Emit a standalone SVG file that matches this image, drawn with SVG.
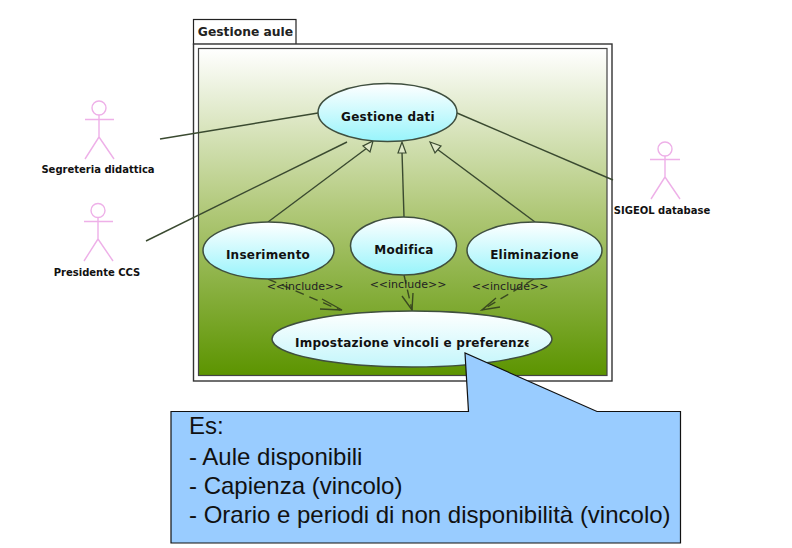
<svg xmlns="http://www.w3.org/2000/svg" width="792" height="548" viewBox="0 0 792 548">
<style>
.label{font-family:"DejaVu Sans",sans-serif;font-weight:bold;fill:#111;text-anchor:middle}
.uc{font-size:12px;letter-spacing:.25px}
.actor-label{font-size:10px}
.use{fill:url(#ucFill);stroke:#3f4f3f;stroke-width:1.5}
.stick{fill:none;stroke:#eeb0e8;stroke-width:1.4}
.line{fill:none;stroke:#3a4a30;stroke-width:1.4}
.dash{fill:none;stroke:#3a4a20;stroke-width:1.4;stroke-dasharray:9 6}
.open{fill:none;stroke:#3a4a20;stroke-width:1.4}
.tri{fill:#dfe8c8;stroke:#3a4a30;stroke-width:1.2}
.inc{font-family:"DejaVu Sans",sans-serif;font-size:11px;fill:#222;text-anchor:middle}
.note{font-family:"Liberation Sans",Arial,sans-serif;font-size:24px;fill:#111}
</style>
<defs>
<linearGradient id="bg" x1="0" y1="0" x2="0" y2="1">
<stop offset="0" stop-color="#ffffff"/><stop offset=".5" stop-color="#b0c878"/><stop offset="1" stop-color="#5c9400"/>
</linearGradient>
<linearGradient id="ucFill" x1="0" y1="0" x2="0" y2="1">
<stop offset="0" stop-color="#ffffff"/><stop offset="1" stop-color="#98f4fb"/>
</linearGradient>
<linearGradient id="ucPale" x1="0" y1="0" x2="0" y2="1">
<stop offset="0" stop-color="#ffffff"/><stop offset="1" stop-color="#c4f6fb"/>
</linearGradient>
<clipPath id="clipImp"><rect x="280" y="325" width="248.500" height="30"/></clipPath>
</defs>
<rect width="792" height="548" fill="#fff"/>
<g id="package">
<rect x="193.500" y="19.500" width="102.500" height="25" fill="#fff" stroke="#222" stroke-width="1.2"/>
<rect x="193.500" y="44" width="418.500" height="337" fill="#fff" stroke="#333" stroke-width="1.4"/>
<rect x="198.500" y="48.500" width="408.500" height="327" fill="url(#bg)" stroke="#444" stroke-width="1.2"/>
<text x="245.500" y="36" style="font-family:'DejaVu Sans',sans-serif;font-weight:bold;font-size:12.300px;fill:#222;text-anchor:middle">Gestione aule</text>
</g>
<g id="connectors">
<line class="line" x1="160" y1="139" x2="318" y2="113"/>
<line class="line" x1="146" y1="241" x2="347" y2="142"/>
<line class="line" x1="457" y1="113" x2="613" y2="180"/>
<line class="line" x1="268" y1="222" x2="367" y2="148"/>
<polygon class="tri" points="373,141 370,152 363,146"/>
<line class="line" x1="404" y1="217" x2="402" y2="152"/>
<polygon class="tri" points="402,142 406,153 398,153"/>
<line class="line" x1="535" y1="222" x2="437" y2="149"/>
<polygon class="tri" points="430,142 441,146 435,153"/>
<line class="dash" x1="268" y1="279" x2="340" y2="310"/>
<polyline class="open" points="322,299 342,310 320,309"/>
<line class="dash" x1="404" y1="275" x2="412" y2="310"/>
<polyline class="open" points="402,296 412,310 413,293"/>
<line class="dash" x1="534" y1="279" x2="482" y2="310"/>
<polyline class="open" points="496,298 482,310 500,307"/>
</g>
<g id="actor-segreteria">
<circle class="stick" cx="99" cy="108" r="7"/>
<path class="stick" d="M99 115V137M85 119.500H114M99 137L85 159M99 137L114 159"/>
<text class="label actor-label" x="98" y="173">Segreteria didattica</text>
</g>
<g id="actor-presidente">
<circle class="stick" cx="98" cy="210.500" r="7"/>
<path class="stick" d="M98 218V239M84 221.500H113M98 239L84 261M98 239L113 261"/>
<text class="label actor-label" x="97" y="276">Presidente CCS</text>
</g>
<g id="actor-sigeol">
<circle class="stick" cx="665" cy="149" r="7"/>
<path class="stick" d="M665 156V177M650 159.500H680M665 177L651 199M665 177L680 199"/>
<text class="label actor-label" x="662" y="214">SIGEOL database</text>
</g>
<g id="uc-gestione"><ellipse class="use" cx="387.500" cy="112.500" rx="69.500" ry="29"/><text class="label uc" x="388" y="121">Gestione dati</text></g>
<g id="uc-inserimento"><ellipse class="use" cx="268.500" cy="250.500" rx="65.500" ry="28.500"/><text class="label uc" x="268" y="259">Inserimento</text></g>
<g id="uc-modifica"><ellipse class="use" cx="403.500" cy="246" rx="53" ry="29"/><text class="label uc" x="404" y="254">Modifica</text></g>
<g id="uc-eliminazione"><ellipse class="use" cx="534.500" cy="250.500" rx="67.500" ry="28.500"/><text class="label uc" x="534.500" y="259">Eliminazione</text></g>
<g id="uc-impostazione"><ellipse class="use" style="fill:url(#ucPale)" cx="412" cy="339" rx="140" ry="28"/><text class="label uc" clip-path="url(#clipImp)" x="295" y="347" style="text-anchor:start">Impostazione vincoli e preferenze</text></g>
<g id="include-labels">
<text class="inc" x="305" y="290">&lt;&lt;include&gt;&gt;</text>
<text class="inc" x="408" y="288">&lt;&lt;include&gt;&gt;</text>
<text class="inc" x="510" y="290">&lt;&lt;include&gt;&gt;</text>
</g>
<g id="note">
<path d="M171 411.500H468.500L465 353L597 411.500H680.500V543H171Z" fill="#99ccff" stroke="#111" stroke-width="1.2"/>
<text class="note" x="189" y="434">Es:</text>
<text class="note" x="189" y="465">- Aule disponibili</text>
<text class="note" x="189" y="494">- Capienza (vincolo)</text>
<text class="note" x="189" y="523">- Orario e periodi di non disponibilità (vincolo)</text>
</g>
</svg>
